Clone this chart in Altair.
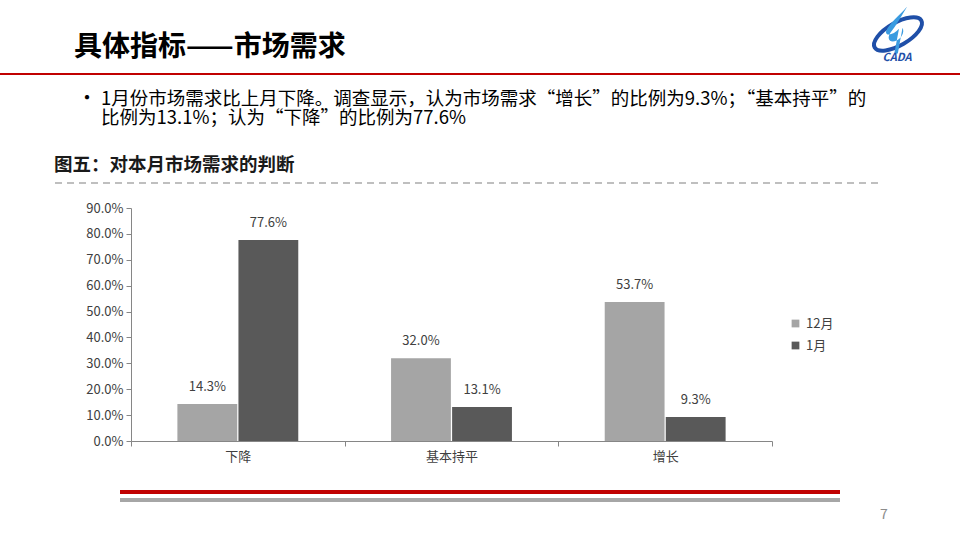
import altair as alt
import pandas as pd

categories = ["下降", "基本持平", "增长"]
series_names = ["12月", "1月"]
dec_values = [0.143, 0.320, 0.537]
jan_values = [0.776, 0.131, 0.093]
tick_values = [0.0, 0.1, 0.2, 0.3, 0.4, 0.5, 0.6, 0.7, 0.8, 0.9]
colors = ["#A5A5A5", "#595959"]

rows = []
for c, d, j in zip(categories, dec_values, jan_values):
    rows.append({"cat": c, "series": "12月", "value": d})
    rows.append({"cat": c, "series": "1月", "value": j})
df = pd.DataFrame(rows)

FONT = "Noto Sans CJK SC"
one = pd.DataFrame([{"k": 0}])

x_enc = alt.X("cat:N", sort=categories, title=None,
              scale=alt.Scale(paddingInner=0, paddingOuter=0),
              axis=alt.Axis(labelAngle=0, tickBand="extent", tickSize=5,
                            labelFont=FONT, labelFontSize=13, labelColor="#404040",
                            domainColor="#868686", tickColor="#868686", labelPadding=4))
xoff = alt.XOffset("series:N", sort=series_names,
                   scale=alt.Scale(paddingInner=0.02, paddingOuter=0.76))
y_axis = alt.Axis(format=".1%", values=tick_values, grid=False,
                  labelOverlap=False, labelFlush=False, tickCount=10,
                  tickSize=5, labelFont=FONT, labelFontSize=13, labelColor="#404040",
                  domainColor="#868686", tickColor="#868686", labelPadding=3)
y_enc = alt.Y("value:Q", title=None, scale=alt.Scale(domain=[0, 0.9], nice=False), axis=y_axis)

bars = alt.Chart(df).mark_bar().encode(
    x=x_enc, xOffset=xoff, y=y_enc,
    color=alt.Color("series:N", sort=series_names,
                    scale=alt.Scale(domain=series_names, range=colors),
                    legend=alt.Legend(title=None, orient="none", legendX=658, legendY=109,
                                      symbolType="square", symbolSize=60, labelFont=FONT,
                                      labelFontSize=13, labelColor="#404040", rowPadding=8,
                                      symbolStrokeWidth=0)),
)
labels = alt.Chart(df).mark_text(dy=-17, font=FONT, fontSize=13, color="#404040",
                                 baseline="middle").encode(
    x=x_enc, xOffset=xoff, y=y_enc,
    text=alt.Text("value:Q", format=".1%"))


def txt(s, x, y, size, bold=False, color="#000000", align="left", italic=False, **kw):
    return alt.Chart(one).mark_text(text=s, align=align, baseline="middle", font=FONT,
                                    fontSize=size, fontWeight="bold" if bold else "normal",
                                    fontStyle="italic" if italic else "normal",
                                    color=color, **kw).encode(x=alt.value(x), y=alt.value(y))


def hline(x1, x2, y, color, width, dash=None):
    kw = dict(color=color, strokeWidth=width)
    if dash:
        kw["strokeDash"] = dash
    return alt.Chart(one).mark_rule(**kw).encode(x=alt.value(x1), x2=alt.value(x2), y=alt.value(y))


ellipse = "M -1 0 A 1 0.42 0 1 0 1 0 A 1 0.42 0 1 0 -1 0 Z"
figure = ("M 0.35 -1 C 0.1 -0.6 -0.1 -0.2 -0.35 0.1 C -0.55 0.35 -0.4 0.6 -0.1 0.45 "
          "C 0.1 0.35 0.25 0.1 0.15 -0.1 L -0.05 1 L -0.2 1 L 0.0 -0.05 "
          "C -0.2 0.2 -0.6 0.3 -0.55 0.05 C -0.4 -0.3 0.0 -0.6 0.35 -1 Z")

deco = [
    txt("具体指标——市场需求", -57, -160, 28, bold=True),
    hline(-131, 829, -134, "#C00000", 2),
    txt("•", -54, -109, 20, color="#000000"),
    alt.Chart(one).mark_text(
        text=["1月份市场需求比上月下降。调查显示，认为市场需求“增长”的比例为9.3%；“基本持平”的",
              "比例为13.1%；认为“下降”的比例为77.6%"],
        align="left", baseline="middle", font=FONT, fontSize=18.5, lineHeight=19,
        color="#000000").encode(x=alt.value(-30), y=alt.value(-109)),
    txt("图五：对本月市场需求的判断", -77, -43, 18.5, bold=True, color="#1a1a1a"),
    hline(-76, 747, -25, "#BFBFBF", 2, [7, 5]),
    hline(-11, 709, 284, "#C00000", 4),
    hline(-11, 709, 292, "#A6A6A6", 4),
    txt("7", 749, 307, 14, color="#8C8C8C"),
    # logo approximation
    alt.Chart(one).mark_point(shape=ellipse, filled=False, size=2900, stroke="#1F4FA8",
                              strokeWidth=4, angle=330, opacity=1).encode(
        x=alt.value(767), y=alt.value(-174)),
    alt.Chart(one).mark_point(shape=figure, filled=True, size=2200, fill="#3A9BE0",
                              strokeWidth=0, opacity=1).encode(
        x=alt.value(768), y=alt.value(-178)),
    txt("CADA", 766, -150, 11, bold=True, color="#1F4FA8", align="center", italic=True),
]

chart = alt.layer(bars, labels, *deco).properties(
    width=641, height=233,
    padding={"left": 131, "top": 208, "right": 188, "bottom": 99},
    autosize=alt.AutoSizeParams(type="none"),
    background="white",
).configure_view(stroke=None)

chart.save("out.html", embed_options={"renderer": "svg", "actions": False})
